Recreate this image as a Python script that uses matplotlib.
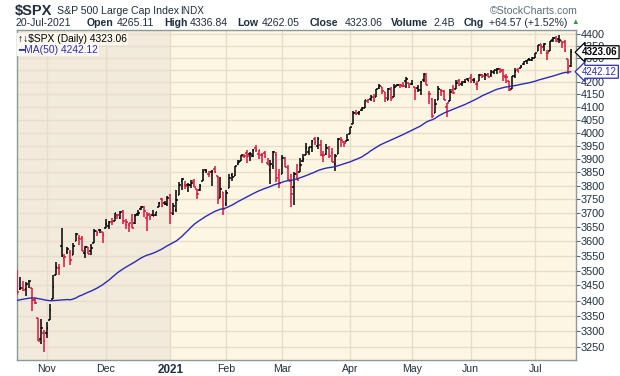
import numpy as np
import pandas as pd
import matplotlib
matplotlib.use('Agg')
import matplotlib.pyplot as plt

# daily OHLC, $SPX, 19-Oct-2020 .. 20-Jul-2021
dates = """
2020-10-19 2020-10-20 2020-10-21 2020-10-22 2020-10-23 2020-10-26 2020-10-27 2020-10-28 2020-10-29 2020-10-30
2020-11-02 2020-11-03 2020-11-04 2020-11-05 2020-11-06 2020-11-09 2020-11-10 2020-11-11 2020-11-12 2020-11-13
2020-11-16 2020-11-17 2020-11-18 2020-11-19 2020-11-20 2020-11-23 2020-11-24 2020-11-25 2020-11-27 2020-11-30
2020-12-01 2020-12-02 2020-12-03 2020-12-04 2020-12-07 2020-12-08 2020-12-09 2020-12-10 2020-12-11 2020-12-14
2020-12-15 2020-12-16 2020-12-17 2020-12-18 2020-12-21 2020-12-22 2020-12-23 2020-12-24 2020-12-28 2020-12-29
2020-12-30 2020-12-31
2021-01-04 2021-01-05 2021-01-06 2021-01-07 2021-01-08 2021-01-11 2021-01-12 2021-01-13 2021-01-14 2021-01-15
2021-01-19 2021-01-20 2021-01-21 2021-01-22 2021-01-25 2021-01-26 2021-01-27 2021-01-28 2021-01-29
2021-02-01 2021-02-02 2021-02-03 2021-02-04 2021-02-05 2021-02-08 2021-02-09 2021-02-10 2021-02-11 2021-02-12
2021-02-16 2021-02-17 2021-02-18 2021-02-19 2021-02-22 2021-02-23 2021-02-24 2021-02-25 2021-02-26
2021-03-01 2021-03-02 2021-03-03 2021-03-04 2021-03-05 2021-03-08 2021-03-09 2021-03-10 2021-03-11 2021-03-12
2021-03-15 2021-03-16 2021-03-17 2021-03-18 2021-03-19 2021-03-22 2021-03-23 2021-03-24 2021-03-25 2021-03-26
2021-03-29 2021-03-30 2021-03-31
2021-04-01 2021-04-05 2021-04-06 2021-04-07 2021-04-08 2021-04-09 2021-04-12 2021-04-13 2021-04-14 2021-04-15
2021-04-16 2021-04-19 2021-04-20 2021-04-21 2021-04-22 2021-04-23 2021-04-26 2021-04-27 2021-04-28 2021-04-29
2021-04-30
2021-05-03 2021-05-04 2021-05-05 2021-05-06 2021-05-07 2021-05-10 2021-05-11 2021-05-12 2021-05-13 2021-05-14
2021-05-17 2021-05-18 2021-05-19 2021-05-20 2021-05-21 2021-05-24 2021-05-25 2021-05-26 2021-05-27 2021-05-28
2021-06-01 2021-06-02 2021-06-03 2021-06-04 2021-06-07 2021-06-08 2021-06-09 2021-06-10 2021-06-11 2021-06-14
2021-06-15 2021-06-16 2021-06-17 2021-06-18 2021-06-21 2021-06-22 2021-06-23 2021-06-24 2021-06-25 2021-06-28
2021-06-29 2021-06-30
2021-07-01 2021-07-02 2021-07-06 2021-07-07 2021-07-08 2021-07-09 2021-07-12 2021-07-13 2021-07-14 2021-07-15
2021-07-16 2021-07-19 2021-07-20
""".split()

opens = [
    3493.66, 3439.38, 3439.91, 3438.50, 3464.90, 3441.42, 3403.15, 3342.48, 3277.17, 3293.59,
    3296.20, 3336.25, 3406.46, 3485.74, 3508.34, 3583.04, 3543.26, 3563.22, 3562.67, 3552.57,
    3600.16, 3610.31, 3612.09, 3559.41, 3579.31, 3566.82, 3594.52, 3635.50, 3638.55, 3634.18,
    3645.87, 3653.78, 3668.28, 3670.94, 3694.73, 3683.05, 3705.98, 3659.13, 3656.08, 3675.27,
    3666.41, 3696.25, 3713.65, 3722.39, 3684.28, 3698.08, 3693.42, 3694.03, 3723.03, 3750.01,
    3736.19, 3733.27,
    3764.61, 3698.02, 3712.20, 3764.71, 3815.05, 3803.14, 3801.62, 3802.23, 3814.98, 3788.73,
    3781.88, 3816.22, 3857.46, 3844.24, 3851.68, 3862.96, 3836.83, 3755.75, 3778.05,
    3731.17, 3791.84, 3840.27, 3836.66, 3878.30, 3892.59, 3910.49, 3920.78, 3916.40, 3911.65,
    3939.61, 3918.50, 3915.86, 3921.16, 3885.55, 3857.07, 3873.71, 3915.80, 3839.66,
    3842.51, 3903.64, 3863.99, 3818.53, 3793.58, 3844.39, 3851.93, 3891.99, 3915.54, 3924.52,
    3942.96, 3973.59, 3949.57, 3953.50, 3913.14, 3916.48, 3937.60, 3919.93, 3879.34, 3917.12,
    3969.31, 3963.34, 3967.25,
    3992.78, 4034.44, 4075.57, 4074.29, 4089.95, 4096.11, 4124.71, 4130.10, 4141.58, 4139.76,
    4174.14, 4179.80, 4159.18, 4128.42, 4170.46, 4138.78, 4185.03, 4188.25, 4185.14, 4206.14,
    4198.10,
    4191.98, 4179.04, 4177.06, 4169.14, 4210.34, 4228.29, 4150.34, 4130.55, 4074.99, 4129.58,
    4169.92, 4165.94, 4098.45, 4121.97, 4168.61, 4170.16, 4205.94, 4191.59, 4201.94, 4210.77,
    4216.52, 4206.82, 4191.43, 4206.05, 4229.34, 4233.81, 4232.99, 4228.56, 4242.90, 4248.31,
    4255.28, 4248.87, 4220.37, 4204.78, 4173.40, 4224.61, 4249.27, 4256.97, 4274.45, 4284.90,
    4293.21, 4290.65,
    4300.73, 4326.60, 4356.46, 4351.01, 4321.07, 4329.38, 4372.41, 4381.07, 4380.11, 4369.02,
    4367.43, 4296.40, 4265.11]

highs = [
    3502.42, 3476.93, 3464.86, 3460.53, 3466.46, 3441.42, 3409.51, 3342.48, 3341.05, 3304.93,
    3330.14, 3389.49, 3486.25, 3529.05, 3521.58, 3645.99, 3557.22, 3581.16, 3569.02, 3593.66,
    3628.51, 3623.11, 3619.09, 3585.22, 3581.23, 3589.81, 3642.31, 3635.50, 3644.31, 3634.18,
    3678.45, 3670.96, 3682.73, 3699.20, 3697.41, 3708.45, 3712.39, 3678.49, 3665.91, 3697.61,
    3695.29, 3711.27, 3725.12, 3726.70, 3702.90, 3698.26, 3711.24, 3703.82, 3740.51, 3756.12,
    3744.63, 3760.20,
    3769.99, 3737.83, 3783.04, 3811.55, 3826.69, 3817.86, 3810.78, 3820.96, 3823.60, 3788.73,
    3804.53, 3859.75, 3861.45, 3852.31, 3859.23, 3870.90, 3836.83, 3830.50, 3778.05,
    3784.32, 3843.09, 3847.51, 3872.42, 3894.56, 3915.77, 3918.35, 3931.50, 3925.99, 3937.23,
    3950.43, 3933.61, 3921.98, 3930.41, 3902.92, 3895.98, 3928.65, 3925.02, 3861.08,
    3914.50, 3906.41, 3874.47, 3843.67, 3851.69, 3881.06, 3903.76, 3917.35, 3960.27, 3944.99,
    3970.08, 3981.04, 3983.87, 3969.62, 3930.12, 3955.31, 3949.13, 3942.08, 3919.54, 3978.19,
    3981.83, 3968.01, 3994.41,
    4020.63, 4083.42, 4086.23, 4083.13, 4098.19, 4129.48, 4131.76, 4148.00, 4151.69, 4173.49,
    4191.31, 4180.81, 4159.18, 4175.02, 4179.57, 4194.17, 4194.19, 4193.35, 4201.53, 4218.78,
    4198.10,
    4209.39, 4179.04, 4187.72, 4202.70, 4238.04, 4236.39, 4162.04, 4134.73, 4131.58, 4183.13,
    4171.92, 4169.15, 4116.93, 4172.80, 4188.72, 4209.52, 4213.42, 4202.61, 4213.38, 4218.36,
    4234.12, 4217.37, 4204.39, 4233.45, 4232.34, 4236.74, 4237.09, 4249.74, 4248.38, 4255.59,
    4257.16, 4251.89, 4232.29, 4204.78, 4226.24, 4255.84, 4256.60, 4271.28, 4286.12, 4292.14,
    4300.52, 4302.43,
    4320.66, 4355.43, 4356.46, 4361.88, 4330.88, 4371.60, 4386.68, 4392.37, 4393.68, 4369.02,
    4375.09, 4296.40, 4336.84]

lows = [
    3419.93, 3435.65, 3433.06, 3415.34, 3440.45, 3364.86, 3388.71, 3268.89, 3259.82, 3233.94,
    3279.74, 3336.25, 3405.17, 3485.74, 3484.34, 3547.48, 3511.91, 3557.00, 3518.58, 3552.57,
    3600.16, 3588.68, 3567.33, 3543.84, 3556.85, 3552.77, 3594.52, 3617.76, 3629.33, 3594.39,
    3645.87, 3644.84, 3657.17, 3670.94, 3678.88, 3678.83, 3660.54, 3645.18, 3633.40, 3645.84,
    3659.62, 3688.57, 3710.87, 3685.84, 3636.48, 3676.16, 3689.28, 3689.32, 3723.03, 3723.31,
    3730.21, 3726.88,
    3662.71, 3695.07, 3705.34, 3764.71, 3783.60, 3789.02, 3776.51, 3791.50, 3792.86, 3749.62,
    3780.37, 3816.22, 3845.05, 3830.41, 3797.16, 3847.78, 3732.48, 3755.75, 3694.12,
    3725.62, 3791.84, 3816.68, 3836.66, 3874.93, 3892.59, 3902.64, 3884.94, 3890.39, 3905.78,
    3923.85, 3900.43, 3885.03, 3903.07, 3874.71, 3805.59, 3859.60, 3814.04, 3789.54,
    3842.51, 3868.57, 3818.86, 3723.34, 3730.19, 3819.25, 3851.93, 3885.73, 3915.54, 3915.21,
    3923.54, 3953.44, 3935.74, 3910.86, 3886.75, 3914.16, 3901.57, 3889.07, 3853.50, 3917.12,
    3943.25, 3944.35, 3966.98,
    3992.78, 4034.44, 4068.14, 4068.31, 4082.54, 4095.51, 4114.82, 4124.43, 4120.87, 4139.76,
    4170.75, 4150.47, 4118.38, 4126.35, 4123.69, 4138.78, 4182.36, 4176.22, 4181.78, 4176.81,
    4174.85,
    4188.03, 4128.59, 4160.94, 4147.33, 4201.64, 4188.13, 4111.53, 4056.88, 4074.99, 4129.58,
    4142.69, 4125.99, 4061.41, 4121.97, 4151.72, 4170.16, 4182.52, 4184.11, 4197.78, 4203.57,
    4197.59, 4198.27, 4167.93, 4206.05, 4215.66, 4208.41, 4218.74, 4220.34, 4232.25, 4234.07,
    4238.35, 4202.45, 4196.05, 4164.40, 4173.40, 4217.27, 4241.43, 4256.97, 4271.16, 4274.67,
    4287.04, 4287.96,
    4300.73, 4326.60, 4314.37, 4329.79, 4289.37, 4329.38, 4364.03, 4366.92, 4362.36, 4340.70,
    4322.53, 4233.13, 4262.05]

closes = [
    3426.92, 3443.12, 3435.56, 3453.49, 3465.39, 3400.97, 3390.68, 3271.03, 3310.11, 3269.96,
    3310.24, 3369.16, 3443.44, 3510.45, 3509.44, 3550.50, 3545.53, 3572.66, 3537.01, 3585.15,
    3626.91, 3609.53, 3567.79, 3581.87, 3557.54, 3577.59, 3635.41, 3629.65, 3638.35, 3621.63,
    3662.45, 3669.01, 3666.72, 3699.12, 3691.96, 3702.25, 3672.82, 3668.10, 3663.46, 3647.49,
    3694.62, 3701.17, 3722.48, 3709.41, 3694.92, 3687.26, 3690.01, 3703.06, 3735.36, 3727.04,
    3732.04, 3756.07,
    3700.65, 3726.86, 3748.14, 3803.79, 3824.68, 3799.61, 3801.19, 3809.84, 3795.54, 3768.25,
    3798.91, 3851.85, 3853.07, 3841.47, 3855.36, 3849.62, 3750.77, 3787.38, 3714.24,
    3773.86, 3826.31, 3830.17, 3871.74, 3886.83, 3915.59, 3911.23, 3909.88, 3916.38, 3934.83,
    3932.59, 3931.33, 3913.97, 3906.71, 3876.50, 3881.37, 3925.43, 3829.34, 3811.15,
    3901.82, 3870.29, 3819.72, 3768.47, 3841.94, 3821.35, 3875.44, 3898.81, 3939.34, 3943.34,
    3968.94, 3962.71, 3974.12, 3915.46, 3913.10, 3940.59, 3910.52, 3889.14, 3909.52, 3974.54,
    3971.09, 3958.55, 3972.89,
    4019.87, 4077.91, 4073.94, 4079.95, 4097.17, 4128.80, 4127.99, 4141.59, 4124.66, 4170.42,
    4185.47, 4163.26, 4134.94, 4173.42, 4134.98, 4180.17, 4187.62, 4186.72, 4183.18, 4211.47,
    4181.17,
    4192.66, 4164.66, 4167.59, 4201.62, 4232.60, 4188.43, 4152.10, 4063.04, 4112.50, 4173.85,
    4163.29, 4127.83, 4115.68, 4159.12, 4155.86, 4197.05, 4188.13, 4195.99, 4200.88, 4204.11,
    4202.04, 4208.12, 4192.85, 4229.89, 4226.52, 4227.26, 4219.55, 4239.18, 4247.44, 4255.15,
    4246.59, 4223.70, 4221.86, 4166.45, 4224.79, 4246.44, 4241.84, 4266.49, 4280.70, 4290.61,
    4291.80, 4297.50,
    4319.94, 4352.34, 4343.54, 4358.13, 4320.82, 4369.55, 4384.63, 4369.21, 4374.30, 4360.03,
    4327.16, 4258.49, 4323.06]

# closes before the window (10-Aug-2020 .. 16-Oct-2020), only needed for the MA(50)
pre_closes = [
    3360.47, 3333.69, 3380.35, 3373.43, 3372.85, 3381.99, 3389.78, 3374.85, 3385.51, 3397.16,
    3431.28, 3443.62, 3478.73, 3484.55, 3508.01, 3500.31,
    3526.65, 3580.84, 3455.06, 3426.96, 3331.84, 3398.96, 3339.19, 3340.97, 3383.54, 3401.20,
    3385.49, 3357.01, 3319.47, 3281.06, 3315.57, 3236.92, 3246.59, 3298.46, 3351.60, 3335.47,
    3363.00,
    3380.80, 3348.42, 3408.60, 3360.97, 3419.44, 3446.83, 3477.14, 3534.22, 3511.93, 3488.67,
    3483.34, 3483.81]

ma_last = 4242.12
yticks = list(range(3250, 4401, 50))
month_labels = ['Nov', 'Dec', '2021', 'Feb', 'Mar', 'Apr', 'May', 'Jun', 'Jul']

W, H = 620, 376
df = pd.DataFrame({'date': pd.to_datetime(dates), 'open': opens, 'high': highs,
                   'low': lows, 'close': closes})
x = np.arange(len(df))

allc = pd.Series(pre_closes + closes)
ma50 = allc.rolling(50).mean().values[-len(df):]
prev = allc.shift(1).values[-len(df):]
up = df['close'].values >= prev

black = '#000000'
red = '#DC143C'
blue = '#2B2BB8'
cols = [black if u else red for u in up]

# first trading day of each month -> tick positions
mkey = df['date'].dt.to_period('M')
first_idx = [i for i in range(len(df)) if i == 0 or mkey[i] != mkey[i - 1]][1:]

fig = plt.figure(figsize=(W / 100, H / 100), dpi=100)
plt.rcParams['font.family'] = ['Liberation Sans', 'DejaVu Sans']
fig.patch.set_facecolor('white')
ax = fig.add_axes([16.5 / W, 1 - 360 / H, (576 - 16.5) / W, (360 - 30) / H])
ax.set_facecolor('#FDF6E3')

ax.set_yscale('log')
ax.set_ylim(3210, 4417)
ax.set_xlim(-0.3, 189.8)

# older (2020) part of the chart is shaded darker
ax.axvspan(-0.3, first_idx[2], color='#F2EBDC', zorder=0, lw=0)

for yv in yticks:
    ax.axhline(yv, color='#E6DECB', lw=1, zorder=1)
for xi in first_idx:
    ax.axvline(xi, color='#E6DECB', lw=1, zorder=1)

# OHLC bars
ax.vlines(x, df['low'], df['high'], colors=cols, lw=1.1, zorder=3)
ax.hlines(df['open'], x - 0.55, x, colors=cols, lw=1.1, zorder=3)
ax.hlines(df['close'], x, x + 0.55, colors=cols, lw=1.1, zorder=3)

ax.plot(x, ma50, color=blue, lw=1.0, zorder=4)

ax.yaxis.tick_right()
ax.set_yticks(yticks)
ax.set_yticklabels([str(v) for v in yticks])
ax.yaxis.set_minor_locator(plt.NullLocator())
ax.tick_params(axis='y', which='major', length=3, width=0.8, color='#556677',
               pad=0.5, labelsize=7.8, labelcolor='#1E2E3C')
ax.set_xticks(first_idx)
ax.set_xticklabels(month_labels)
ax.tick_params(axis='x', length=0, pad=3, labelsize=7.6, labelcolor='#1E2E3C')
ax.get_xticklabels()[2].set_fontweight('bold')
ax.get_xticklabels()[2].set_fontsize(8.4)
for s in ax.spines.values():
    s.set_color('#8A9A9A')
    s.set_linewidth(1)

# legend in the top left corner
ax.text(0.003, 0.988, '\u2191\u2193$SPX (Daily) 4323.06', transform=ax.transAxes,
        fontsize=7.4, color='black', va='top', ha='left', zorder=6,
        bbox=dict(boxstyle='square,pad=0.1', fc='#FBF7EC', ec='none'))
ax.text(0.003, 0.955, '\u2501MA(50) 4242.12', transform=ax.transAxes,
        fontsize=7.4, color=blue, va='top', ha='left', zorder=6,
        bbox=dict(boxstyle='square,pad=0.1', fc='#FBF7EC', ec='none'))

# last values on the price axis
tr = ax.get_yaxis_transform()
ax.text(1.0107, closes[-1], '%.2f' % closes[-1], transform=tr, ha='left', va='center',
        fontsize=7.0, fontweight='bold', color='black', zorder=10, clip_on=False,
        bbox=dict(boxstyle='larrow,pad=0.15', fc='white', ec='black', lw=0.9))
ax.text(1.0107, ma_last, '%.2f' % ma_last, transform=tr, ha='left', va='center',
        fontsize=7.0, color=blue, zorder=10, clip_on=False,
        bbox=dict(boxstyle='larrow,pad=0.15', fc='white', ec=blue, lw=0.9))

# header
def ftxt(px, py, s, **kw):
    kw.setdefault('color', '#1E2E3C')
    kw.setdefault('fontsize', 7.6)
    fig.text(px / W, 1 - py / H, s, va='center', **kw)

ftxt(15, 10.5, '$SPX', fontsize=10.5, fontweight='bold')
ftxt(57, 10.5, 'S&P 500 Large Cap Index')
ftxt(180, 10.5, 'INDX', fontsize=7.2)
ftxt(578, 10.5, '\u00a9StockCharts.com', ha='right', color='#5F6F7A')
ftxt(16, 23, '20-Jul-2021')
for px, s, b in [(87, 'Open', True), (117, '4265.11', False), (164, 'High', True),
                 (190, '4336.84', False), (237, 'Low', True), (262, '4262.05', False),
                 (310, 'Close', True), (345, '4323.06', False), (391, 'Volume', True),
                 (433, '2.4B', False), (464, 'Chg', True), (489, '+64.57 (+1.52%)', False)]:
    ftxt(px, 23, s, fontweight='bold' if b else 'normal')
ftxt(571, 23, '\u25b2', fontsize=5.5, color='#2E9A3A')

fig.savefig('out.png', dpi=100, facecolor='white')
